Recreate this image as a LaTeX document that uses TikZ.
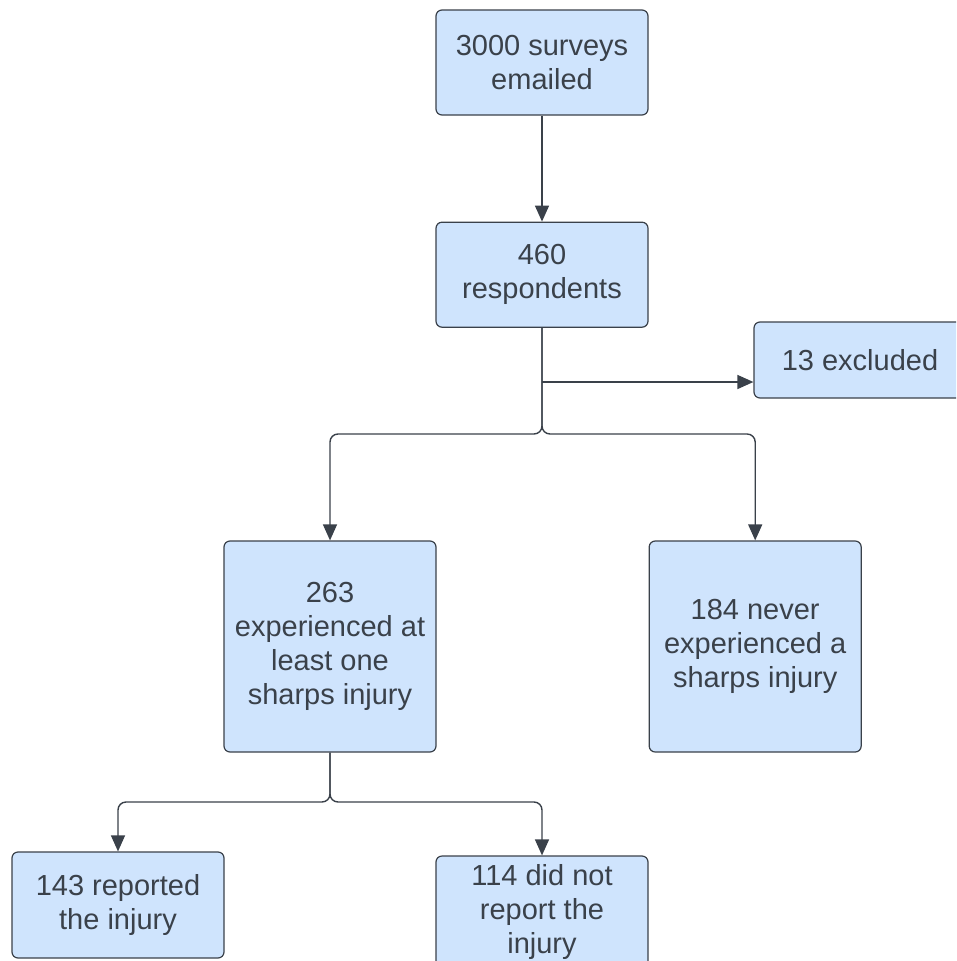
\documentclass[tikz,border=0pt]{standalone}
\usepackage{fontspec}
\setmainfont{Liberation Sans}
\usepackage{tikz}
\usetikzlibrary{positioning}
\usetikzlibrary{arrows.meta}
\definecolor{boxfill}{HTML}{CFE4FD}
\definecolor{boxline}{HTML}{3A414A}
\tikzset{
  mybox/.style={
    draw=boxline,
    fill=boxfill,
    shape=rectangle,
    line width=1.2pt,
    rounded corners=6pt,
    align=center,
    inner sep=0pt,
    minimum width=212pt,
    minimum height=105pt,
    text=boxline,
    font=\fontsize{29}{34}\selectfont
  },
  myarrow/.style={
    draw=boxline,
    line width=1.4pt,
    -{Triangle[length=16pt,width=14pt]},
    rounded corners=8pt,
  },
}
\begin{document}
\begin{tikzpicture}[x=1pt,y=-1pt]
    \useasboundingbox (0,0) rectangle (956,961);
    \clip (0,0) rectangle (956,961);

    \node[mybox] (surveys) at (542,62.5) {3000 surveys\\emailed};
    \node[mybox] (respondents) [below=106pt of surveys] {460\\respondents};
    \node[mybox, minimum height=76pt] (excluded) at (860,360) {13 excluded};

    \node[mybox, minimum height=211pt] (injured) at (330,646.5) {263\\experienced at\\least one\\sharps injury};
    \node[mybox, minimum height=211pt] (never) [right=212pt of injured] {184 never\\experienced a\\sharps injury};

    \node[mybox, minimum height=106pt] (reported) at (118,905) {143 reported\\the injury};
    \node[mybox, minimum height=112pt] (notreported) at (542,912) {114 did not\\report the\\injury};

    \coordinate (exclsplit) at (542,382);
    \coordinate (split1) at (542,434);
    \coordinate (split2) at (330,802);

    \draw[myarrow] (surveys) -- (respondents);
    \draw[myarrow] (exclsplit) -- (excluded.west |- exclsplit);
    \draw[myarrow] (respondents.south) -- (split1) -| (injured.north);
    \draw[myarrow] (respondents.south) -- (split1) -| (never.north);

    \draw[myarrow] (injured.south) -- (split2) -| (reported.north);
    \draw[myarrow] (injured.south) -- (split2) -| (notreported.north);
  \end{tikzpicture}
\end{document}
